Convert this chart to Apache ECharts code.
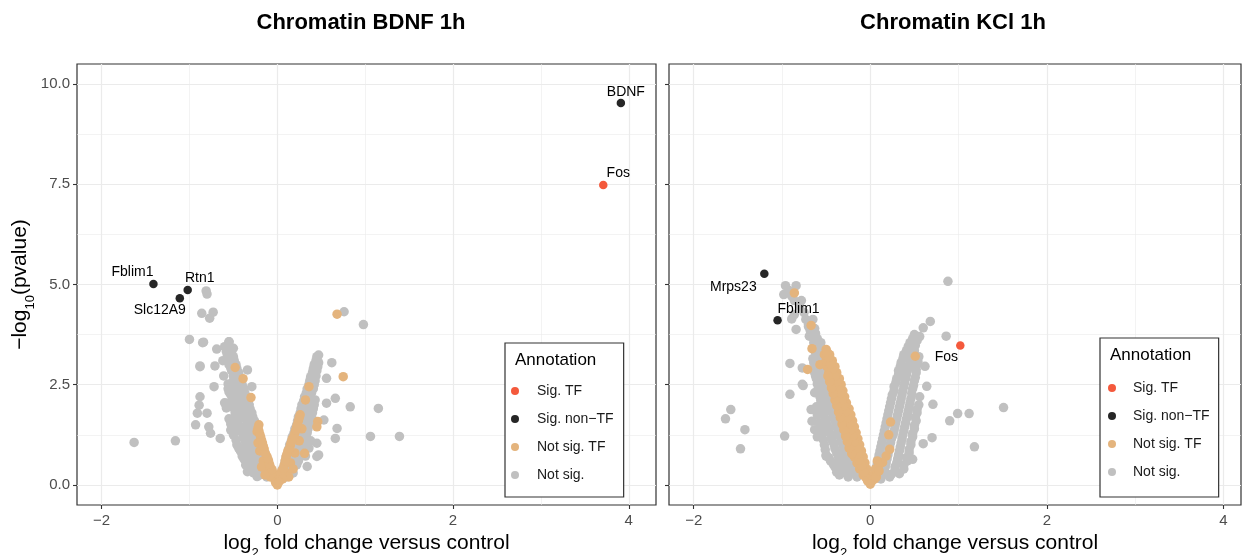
<!DOCTYPE html>
<html><head><meta charset="utf-8">
<script src="https://cdn.jsdelivr.net/npm/echarts@6/dist/echarts.min.js"></script>
<style>html,body{margin:0;padding:0;background:#fff}#c{width:1249px;height:555px}</style>
</head><body><div id="c"></div>
<script>
// ---------- data ----------
const categories = ['Sig. TF', 'Sig. non\u2212TF', 'Not sig. TF', 'Not sig.'];
const panelTitles = ['Chromatin BDNF 1h', 'Chromatin KCl 1h'];
const xTicks = [-2, 0, 2, 4];
const xMinor = [-1, 1, 3];
const yTicks = [0, 2.5, 5, 7.5, 10];
const yMinor = [1.25, 3.75, 6.25, 8.75];

// BDNF panel
const bdnfSigTF = [[3.71, 7.48, 'Fos']];
const bdnfSigNonTF = [[3.91, 9.53, 'BDNF'], [-1.41, 5.01, 'Fblim1'], [-1.02, 4.86, 'Rtn1'], [-1.11, 4.66, 'Slc12A9']];
const bdnfNotSigTF = [
  [0.68,4.26],[0.75,2.70],[-0.48,2.93],[-0.39,2.65],[-0.30,2.18],[-0.21,1.50],[-0.23,1.33],[0.36,2.45],[0.32,2.12],[0.26,1.75],[0.46,1.58],[0.45,1.45],[0.31,0.79],
  [0,0],[-0.03,0.15],[-0.05,0.3],[-0.08,0.45],[-0.1,0.6],[-0.12,0.72],[-0.15,0.9],[-0.17,1.05],[-0.19,1.2],[-0.21,1.35],[-0.08,0.2],[-0.12,0.4],[-0.16,0.6],[-0.2,0.85],[-0.14,0.25],[-0.18,0.45],[-0.22,1.05],
  [-0.06,0.38],[-0.09,0.52],[-0.11,0.66],[-0.14,0.8],[-0.16,0.97],[-0.18,1.12],[-0.2,1.27],[-0.22,1.42],[-0.02,0.06],
  [0.03,0.2],[0.05,0.35],[0.08,0.5],[0.1,0.7],[0.12,0.85],[0.15,1.0],[0.17,1.15],[0.2,1.3],[0.22,1.45],[0.24,1.6],[0.1,0.3],[0.15,0.55],[0.2,0.8],[0.25,1.1],[0.13,0.2],[0.18,0.4],[0.28,1.4],
  [0.04,0.27],[0.07,0.42],[0.09,0.6],[0.11,0.77],[0.14,0.92],[0.16,1.07],[0.19,1.22],[0.21,1.37],[0.23,1.52],[0.25,1.68],[0.06,0.15],[0.02,0.08]
];
const bdnfNotSig = [
  [-0.81,4.84],[-0.80,4.76],[-0.86,4.28],[-0.73,4.31],[-0.77,4.16],[-1.00,3.63],[-0.84,3.56],[-1.63,1.06],[-1.16,1.10],[-0.88,2.97],[-0.71,2.97],[-0.69,3.39],[-0.55,3.57],[-0.50,3.41],[-0.61,2.72],[-0.72,2.45],[-0.88,2.20],[-0.89,1.99],[-0.91,1.79],[-0.80,1.79],[-0.93,1.50],[-0.78,1.45],[-0.65,1.16],[-0.53,1.37],[-0.57,2.04],[-0.53,2.29],[-0.34,2.87],[-0.29,2.45],[-0.36,1.70],[-0.42,1.37],[-0.34,0.54],[-0.23,0.21],[-0.85,3.55],[-0.88,2.95],[-0.76,1.29],[-0.34,0.33],
  [0.76,4.32],[0.98,4.00],[0.47,3.24],[0.45,3.07],[0.62,3.05],[0.41,2.83],[0.56,2.66],[0.66,2.16],[0.83,1.95],[0.56,2.04],[0.53,1.62],[0.68,1.41],[0.66,1.16],[0.45,1.04],[0.45,0.71],[0.34,0.46],[1.15,1.91],[1.06,1.21],[1.39,1.21],[0.47,0.75],
  [-0.05,0.2],[-0.12,0.2],[-0.2,0.25],[-0.08,0.4],[-0.16,0.4],[-0.25,0.4],[-0.11,0.6],[-0.2,0.6],[-0.3,0.6],[-0.38,0.65],[-0.14,0.8],[-0.23,0.8],[-0.32,0.8],[-0.42,0.85],[-0.17,1.0],[-0.26,1.0],[-0.36,1.0],[-0.46,1.0],[-0.2,1.2],[-0.29,1.2],[-0.39,1.2],[-0.5,1.25],[-0.23,1.4],[-0.32,1.4],[-0.42,1.4],[-0.26,1.6],[-0.35,1.6],[-0.45,1.6],[-0.55,1.65],[-0.29,1.8],[-0.38,1.8],[-0.48,1.8],[-0.32,2.0],[-0.41,2.0],[-0.5,2.0],[-0.6,2.05],[-0.35,2.2],[-0.44,2.2],[-0.53,2.25],[-0.38,2.4],[-0.47,2.4],[-0.56,2.4],[-0.41,2.6],[-0.5,2.6],[-0.44,2.8],[-0.52,2.85],[-0.47,3.0],[-0.55,3.0],[-0.62,3.1],[-0.5,3.2],[-0.57,3.25],[-0.53,3.4],[-0.6,3.45],[-0.55,3.57],
  [-0.08,0.3],[-0.17,0.3],[-0.27,0.3],[-0.1,0.5],[-0.19,0.5],[-0.28,0.5],[-0.36,0.5],[-0.13,0.7],[-0.22,0.7],[-0.31,0.7],[-0.4,0.72],[-0.16,0.9],[-0.25,0.9],[-0.34,0.9],[-0.44,0.92],[-0.19,1.1],[-0.28,1.1],[-0.37,1.1],[-0.47,1.12],[-0.22,1.3],[-0.31,1.3],[-0.4,1.3],[-0.5,1.35],[-0.25,1.5],[-0.34,1.5],[-0.44,1.5],[-0.53,1.52],[-0.28,1.7],[-0.37,1.7],[-0.46,1.7],[-0.31,1.9],[-0.4,1.9],[-0.49,1.9],[-0.58,1.92],[-0.34,2.1],[-0.43,2.1],[-0.52,2.1],[-0.37,2.3],[-0.46,2.3],[-0.55,2.32],[-0.4,2.5],[-0.48,2.5],[-0.56,2.52],[-0.43,2.7],[-0.5,2.72],[-0.46,2.9],[-0.53,2.92],[-0.49,3.1],[-0.56,3.12],[-0.52,3.3],[-0.58,3.33],
  [0.04,0.2],[0.1,0.2],[0.06,0.4],[0.13,0.4],[0.09,0.6],[0.16,0.6],[0.24,0.6],[0.12,0.8],[0.19,0.8],[0.27,0.8],[0.14,1.0],[0.22,1.0],[0.3,1.0],[0.17,1.2],[0.25,1.2],[0.33,1.2],[0.2,1.4],[0.27,1.4],[0.35,1.4],[0.23,1.6],[0.3,1.6],[0.38,1.6],[0.26,1.8],[0.33,1.8],[0.4,1.8],[0.28,2.0],[0.35,2.0],[0.42,2.0],[0.31,2.2],[0.38,2.2],[0.34,2.4],[0.41,2.4],[0.37,2.6],[0.43,2.6],[0.4,2.8],[0.45,2.85],[0.42,3.0],[0.47,3.05],[0.45,3.2],
  [0.05,0.3],[0.11,0.3],[0.18,0.3],[0.08,0.5],[0.15,0.5],[0.22,0.5],[0.1,0.7],[0.17,0.7],[0.25,0.7],[0.32,0.72],[0.13,0.9],[0.2,0.9],[0.28,0.9],[0.36,0.92],[0.16,1.1],[0.23,1.1],[0.31,1.1],[0.38,1.1],[0.19,1.3],[0.26,1.3],[0.34,1.3],[0.22,1.5],[0.29,1.5],[0.36,1.5],[0.24,1.7],[0.31,1.7],[0.39,1.7],[0.27,1.9],[0.34,1.9],[0.41,1.9],[0.3,2.1],[0.37,2.1],[0.43,2.12],[0.33,2.3],[0.39,2.3],[0.36,2.5],[0.42,2.5],[0.38,2.7],[0.44,2.72],[0.41,2.9],[0.46,2.95],[0.44,3.1]
];

// KCl panel
const kclSigTF = [[1.02, 3.48, 'Fos']];
const kclSigNonTF = [[-1.20, 5.27, 'Mrps23'], [-1.05, 4.11, 'Fblim1']];
const kclNotSigTF = [
  [-0.86,4.79],[-0.67,3.98],[-0.66,3.40],[-0.71,2.88],[-0.57,3.00],[0.51,3.21],[0.23,1.57],[0.21,1.25],[0.22,0.89],[0.18,0.72],[0.14,0.56],
  [-0.03,0.1],[-0.08,0.25],[-0.03,0.25],[-0.12,0.4],[-0.04,0.4],[-0.15,0.55],[-0.06,0.55],[-0.18,0.7],[-0.08,0.7],[-0.2,0.85],[-0.1,0.85],[-0.23,1.0],[-0.12,1.0],[-0.25,1.15],[-0.14,1.15],[-0.27,1.3],[-0.16,1.3],[-0.29,1.45],[-0.18,1.45],[-0.31,1.6],[-0.2,1.6],[-0.33,1.75],[-0.22,1.75],[-0.35,1.9],[-0.24,1.9],[-0.37,2.05],[-0.27,2.05],[-0.39,2.2],[-0.29,2.2],[-0.41,2.35],[-0.31,2.35],[-0.43,2.5],[-0.33,2.5],[-0.45,2.65],[-0.35,2.65],[-0.47,2.8],[-0.38,2.8],[-0.49,2.95],[-0.4,2.95],[-0.5,3.1],[-0.43,3.1],[-0.52,3.25],[-0.46,3.25],[-0.5,3.38],
  [-0.05,0.18],[-0.07,0.32],[-0.1,0.48],[-0.13,0.62],[-0.14,0.78],[-0.16,0.92],[-0.18,1.08],[-0.2,1.22],[-0.22,1.38],[-0.24,1.52],[-0.26,1.68],[-0.28,1.82],[-0.3,1.98],[-0.32,2.12],[-0.34,2.28],[-0.36,2.42],[-0.38,2.58],[-0.4,2.72],[-0.43,2.88],[-0.45,3.02],[-0.47,3.18],[-0.49,3.32],
  [-0.21,0.78],[-0.24,0.92],[-0.26,1.08],[-0.28,1.22],[-0.3,1.38],[-0.32,1.52],[-0.34,1.68],[-0.36,1.82],[-0.38,1.98],[-0.4,2.12],[-0.42,2.28],[-0.44,2.42],[-0.46,2.58],[-0.48,2.72],
  [0.02,0.1],[0.04,0.25],[0.06,0.4],[0.08,0.6],[0.1,0.5],[0.05,0.15],[0,0.02],[0.07,0.2],[0.1,0.35]
];
const kclNotSig = [
  [0.88,5.08],[-0.96,4.97],[-0.84,4.97],[-0.89,4.71],[-0.86,4.25],[-0.84,3.88],[-0.91,3.03],[-0.76,2.48],[-0.91,2.26],[-1.58,1.88],[-1.64,1.65],[-1.42,1.38],[-1.47,0.90],[-0.97,1.22],[-0.67,1.88],[-0.66,1.59],[-0.63,1.38],[0.68,4.08],[0.60,3.92],[0.86,3.71],[0.62,2.96],[0.64,2.46],[0.71,2.01],[0.99,1.78],[1.12,1.78],[0.90,1.60],[0.70,1.18],[0.60,1.03],[0.48,0.64],[1.18,0.95],[1.51,1.93],[-0.98,4.75],[-0.89,4.14],[-0.73,4.13],[-0.65,4.13],[-0.69,3.71],[-0.56,3.55],[-0.50,3.21],[-0.77,2.92],[-0.77,2.51],[-0.60,1.20],[-0.50,0.72],
  [-0.7,4.0],[-0.75,4.3],[-0.8,4.45],[-0.78,4.6],[-0.86,4.6],[-0.92,4.85],
  [-0.15,0.2],[-0.25,0.2],[-0.35,0.25],[-0.2,0.4],[-0.3,0.4],[-0.4,0.45],[-0.24,0.6],[-0.34,0.6],[-0.45,0.6],[-0.28,0.8],[-0.38,0.8],[-0.5,0.75],[-0.31,1.0],[-0.41,1.0],[-0.52,1.0],[-0.34,1.2],[-0.44,1.2],[-0.55,1.25],[-0.37,1.4],[-0.47,1.4],[-0.57,1.45],[-0.4,1.6],[-0.5,1.6],[-0.43,1.8],[-0.53,1.8],[-0.6,1.75],[-0.46,2.0],[-0.55,2.0],[-0.48,2.2],[-0.57,2.2],[-0.63,2.3],[-0.51,2.4],[-0.59,2.4],[-0.53,2.6],[-0.61,2.65],[-0.55,2.8],[-0.63,2.8],[-0.57,3.0],[-0.64,3.05],[-0.56,3.2],[-0.62,3.3],[-0.58,3.45],[-0.64,3.55],[-0.6,3.65],[-0.66,3.75],[-0.63,3.9],[-0.7,3.95],
  [-0.18,0.3],[-0.28,0.3],[-0.38,0.32],[-0.22,0.5],[-0.32,0.5],[-0.42,0.52],[-0.26,0.7],[-0.36,0.7],[-0.47,0.68],[-0.3,0.9],[-0.4,0.9],[-0.51,0.88],[-0.33,1.1],[-0.43,1.1],[-0.53,1.12],[-0.36,1.3],[-0.46,1.3],[-0.56,1.35],[-0.39,1.5],[-0.49,1.5],[-0.58,1.55],[-0.42,1.7],[-0.52,1.7],[-0.45,1.9],[-0.54,1.9],[-0.61,1.95],[-0.47,2.1],[-0.56,2.1],[-0.5,2.3],[-0.58,2.3],[-0.52,2.5],[-0.6,2.52],[-0.54,2.7],[-0.62,2.72],[-0.56,2.9],[-0.63,2.92],[-0.58,3.1],[-0.65,3.15],[-0.57,3.35],[-0.6,3.55],[-0.62,3.78],[-0.68,3.85],
  [0.03,0.15],[0.12,0.15],[0.22,0.2],[0.06,0.35],[0.16,0.35],[0.28,0.35],[0.38,0.4],[0.08,0.55],[0.18,0.55],[0.3,0.55],[0.42,0.6],[0.1,0.75],[0.2,0.75],[0.32,0.75],[0.44,0.8],[0.12,0.95],[0.22,0.95],[0.34,0.95],[0.46,1.0],[0.14,1.15],[0.24,1.15],[0.36,1.15],[0.48,1.2],[0.16,1.35],[0.27,1.35],[0.38,1.35],[0.5,1.4],[0.18,1.55],[0.29,1.55],[0.4,1.55],[0.52,1.6],[0.2,1.75],[0.31,1.75],[0.42,1.75],[0.53,1.8],[0.22,1.95],[0.33,1.95],[0.44,1.95],[0.55,2.0],[0.24,2.15],[0.35,2.15],[0.46,2.15],[0.56,2.2],[0.27,2.35],[0.37,2.35],[0.48,2.4],[0.29,2.55],[0.39,2.55],[0.5,2.6],[0.32,2.75],[0.41,2.75],[0.52,2.8],[0.34,2.95],[0.43,2.95],[0.53,3.0],[0.37,3.15],[0.46,3.15],[0.55,3.2],[0.41,3.35],[0.5,3.35],[0.45,3.55],[0.53,3.6],[0.5,3.75],
  [0.05,0.25],[0.14,0.25],[0.24,0.27],[0.33,0.28],[0.07,0.45],[0.17,0.45],[0.28,0.45],[0.38,0.5],[0.09,0.65],[0.19,0.65],[0.31,0.65],[0.41,0.68],[0.11,0.85],[0.21,0.85],[0.33,0.85],[0.44,0.88],[0.13,1.05],[0.23,1.05],[0.35,1.05],[0.46,1.08],[0.15,1.25],[0.26,1.25],[0.37,1.25],[0.48,1.28],[0.17,1.45],[0.28,1.45],[0.39,1.45],[0.5,1.48],[0.19,1.65],[0.3,1.65],[0.41,1.65],[0.51,1.68],[0.21,1.85],[0.32,1.85],[0.43,1.85],[0.53,1.88],[0.23,2.05],[0.34,2.05],[0.45,2.05],[0.25,2.25],[0.36,2.25],[0.47,2.28],[0.27,2.45],[0.38,2.45],[0.49,2.48],[0.3,2.65],[0.4,2.65],[0.51,2.68],[0.32,2.85],[0.42,2.85],[0.52,2.88],[0.35,3.05],[0.45,3.05],[0.54,3.08],[0.38,3.25],[0.48,3.25],[0.43,3.45],[0.51,3.48],[0.48,3.65],[0.56,3.7]
];

// ---------- styling / layout (not data) ----------
const FONT = '"Liberation Sans", Arial, Helvetica, sans-serif';
const colors = ['#F4593C', '#262626', '#E4B47D', '#C0C0C0'];
const labelOffsets = [
  { BDNF: [5, -11], Fos: [15, -12], Fblim1: [-21, -12], Rtn1: [12, -12], Slc12A9: [-20, 12] },
  { Mrps23: [-31, 13], Fblim1: [21, -11], Fos: [-14, 12] }
];
const grids = [
  { left: 77, top: 64, width: 579, height: 441 },
  { left: 669, top: 64, width: 572, height: 441 }
];
const xMax = [4.31, 4.2];
const fmtX = v => (v < 0 ? '\u2212' + Math.abs(v) : String(v));
const fmtY = v => v.toFixed(1);
const nameRich = {
  a: { fontSize: 21, lineHeight: 24, verticalAlign: 'top', fontFamily: FONT, color: '#000' },
  s: { fontSize: 13, lineHeight: 27, verticalAlign: 'bottom', fontFamily: FONT, color: '#000' }
};

const xAxes = [], yAxes = [];
grids.forEach((g, p) => {
  xAxes.push({
    type: 'value', gridIndex: p, min: -2.28, max: xMax[p], position: 'bottom',
    axisLine: { show: false, onZero: false },
    axisTick: { show: true, length: 4, lineStyle: { color: '#333', width: 1.1 }, customValues: xTicks },
    axisLabel: { customValues: xTicks, formatter: fmtX, color: '#4d4d4d', fontSize: 15, margin: 8, fontFamily: FONT },
    splitLine: { show: true, lineStyle: { color: '#EBEBEB', width: 1.2 } },
    name: '{a|log}{s|2}{a| fold change versus control}', nameLocation: 'middle', nameGap: 25,
    nameTextStyle: { rich: nameRich }
  });
  xAxes.push({
    type: 'value', gridIndex: p, min: -2.28, max: xMax[p], position: 'top',
    axisLine: { show: false, onZero: false }, axisLabel: { show: false },
    axisTick: { show: false, customValues: xMinor },
    splitLine: { show: true, lineStyle: { color: '#EBEBEB', width: 0.6 } }
  });
  yAxes.push({
    type: 'value', gridIndex: p, min: -0.5, max: 10.5, position: 'left',
    axisLine: { show: false, onZero: false },
    axisTick: { show: true, length: 4, lineStyle: { color: '#333', width: 1.1 }, customValues: yTicks },
    axisLabel: { show: p === 0, customValues: yTicks, formatter: fmtY, color: '#4d4d4d', fontSize: 15, margin: 7, fontFamily: FONT },
    splitLine: { show: true, lineStyle: { color: '#EBEBEB', width: 1.2 } },
    name: p === 0 ? '{a|\u2212log}{s|10}{a|(pvalue)}' : '', nameLocation: 'middle', nameGap: 35,
    nameTextStyle: { rich: nameRich }
  });
  yAxes.push({
    type: 'value', gridIndex: p, min: -0.5, max: 10.5, position: 'right',
    axisLine: { show: false, onZero: false }, axisLabel: { show: false },
    axisTick: { show: false, customValues: yMinor },
    splitLine: { show: true, lineStyle: { color: '#EBEBEB', width: 0.6 } }
  });
});

function panelSeries(p, notSig, notSigTF, sigNonTF, sigTF) {
  const base = { type: 'scatter', xAxisIndex: p * 2, yAxisIndex: p * 2, animation: false, emphasis: { disabled: true } };
  const named = arr => arr.map(d => ({ name: d[2], value: [d[0], d[1]], label: { offset: labelOffsets[p][d[2]] } }));
  const lbl = { show: true, position: 'inside', formatter: '{b}', color: '#000', fontSize: 14, fontFamily: FONT };
  return [
    Object.assign({}, base, { name: categories[3], data: notSig, symbolSize: 9.5, itemStyle: { color: colors[3], opacity: 1 } }),
    Object.assign({}, base, { name: categories[2], data: notSigTF, symbolSize: 9.5, itemStyle: { color: colors[2], opacity: 1 } }),
    Object.assign({}, base, { name: categories[1], data: named(sigNonTF), symbolSize: 8.5, itemStyle: { color: colors[1], opacity: 1 }, label: lbl }),
    Object.assign({}, base, { name: categories[0], data: named(sigTF), symbolSize: 8.5, itemStyle: { color: colors[0], opacity: 1 }, label: lbl })
  ];
}

const legendCommon = {
  data: categories, orient: 'vertical', icon: 'circle', itemHeight: 8, itemGap: 10,
  borderColor: '#333', borderWidth: 1.2, borderRadius: 0, backgroundColor: '#fff', selectedMode: false,
  itemStyle: { opacity: 1 },
  textStyle: { fontSize: 14, color: '#1a1a1a', lineHeight: 18, fontFamily: FONT }
};

const option = {
  animation: false,
  backgroundColor: '#fff',
  grid: grids.map(g => Object.assign({ show: true, borderColor: '#333', borderWidth: 1.2, backgroundColor: '#fff', containLabel: false, outerBoundsMode: 'none' }, g)),
  xAxis: xAxes,
  yAxis: yAxes,
  legend: [
    Object.assign({}, legendCommon, { left: 505, top: 343, itemWidth: 34, padding: [39, 10, 13, 6] }),
    Object.assign({}, legendCommon, { left: 1100, top: 338, itemWidth: 32, padding: [41, 9, 16, 8] })
  ],
  graphic: [
    { type: 'text', x: 361, y: 23, z: 100, style: { text: panelTitles[0], fontSize: 22, fontWeight: 'bold', fill: '#000', align: 'center', verticalAlign: 'middle', fontFamily: FONT } },
    { type: 'text', x: 953, y: 23, z: 100, style: { text: panelTitles[1], fontSize: 22, fontWeight: 'bold', fill: '#000', align: 'center', verticalAlign: 'middle', fontFamily: FONT } },
    { type: 'text', x: 515, y: 360, z: 100, style: { text: 'Annotation', fontSize: 17, fill: '#000', align: 'left', verticalAlign: 'middle', fontFamily: FONT } },
    { type: 'text', x: 1110, y: 355, z: 100, style: { text: 'Annotation', fontSize: 17, fill: '#000', align: 'left', verticalAlign: 'middle', fontFamily: FONT } }
  ],
  series: [].concat(
    panelSeries(0, bdnfNotSig, bdnfNotSigTF, bdnfSigNonTF, bdnfSigTF),
    panelSeries(1, kclNotSig, kclNotSigTF, kclSigNonTF, kclSigTF)
  )
};

const chart = echarts.init(document.getElementById('c'), null, { renderer: 'canvas' });
chart.setOption(option);
</script></body></html>
